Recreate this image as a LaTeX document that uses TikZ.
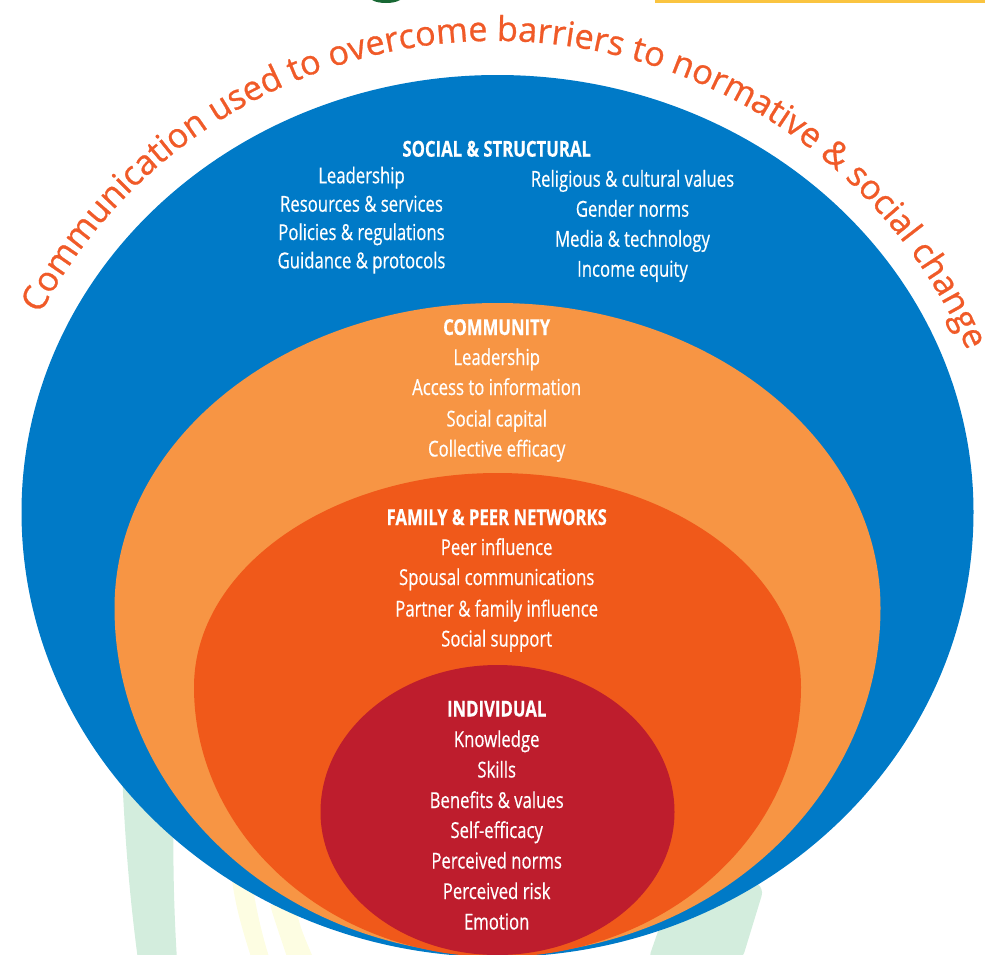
\documentclass[tikz,border=0pt]{standalone}
\usepackage{fontspec}
\usetikzlibrary{decorations.text}
\newfontfamily\arcfont{Open Sans}[FakeBold=0.8]
\newfontfamily\condfont{Open Sans}[FakeStretch=0.76, FakeBold=0.4]

\definecolor{ringblue}{RGB}{0,122,199}
\definecolor{ringlight}{RGB}{247,149,68}
\definecolor{ringdark}{RGB}{240,89,26}
\definecolor{ringred}{RGB}{190,29,45}
\definecolor{arcorange}{RGB}{240,90,40}
\definecolor{wgreen}{RGB}{211,237,221}
\definecolor{wyellow}{RGB}{253,253,226}
\definecolor{logogreen}{RGB}{24,104,52}
\definecolor{baryellow}{RGB}{250,196,64}

\tikzset{
  item/.style={anchor=base, text=white, inner sep=0pt,
    font=\condfont\fontsize{22}{22}\selectfont},
  head/.style={item, font=\condfont\bfseries\fontsize{22}{22}\selectfont},
}

% egg-shaped ring: #1 cx, #2 cy, #3 rx, #4 upper radius, #5 lower radius
\newcommand{\ringshape}[5]{%
  (#1-#3,#2) arc[start angle=180, end angle=360, x radius=#3, y radius=#4]
             arc[start angle=0, end angle=180, x radius=#3, y radius=#5] -- cycle}

\begin{document}
\begin{tikzpicture}[x=1pt,y=-1pt]
\useasboundingbox (0,0) rectangle (985,954);
\begin{scope}
  \clip (0,0) rectangle (985,954);
  % header fragments
  \fill[logogreen] (372,0) .. controls (378,4) and (394,4) .. (400,0) -- cycle;
  \fill[baryellow] (655,0) rectangle (985,3);
  % faint background bands
  \fill[wgreen] (120,700) .. controls (122,820) and (130,900) .. (138,960)
     -- (177,960) .. controls (172,880) and (172,800) .. (178,700) -- cycle;
  \fill[wgreen, rounded corners=8] (690,840) -- (764,888) -- (742,960) -- (648,960) -- cycle;
  \fill[wyellow] (232,880) .. controls (236,910) and (244,935) .. (252,960)
     -- (270,960) .. controls (262,935) and (255,905) .. (252,880) -- cycle;
  \fill[wyellow] (270,905) .. controls (276,925) and (282,942) .. (288,960)
     -- (314,960) .. controls (306,940) and (298,925) .. (296,905) -- cycle;
  % nested levels
  \fill[ringblue]  \ringshape{497.5}{512}{476}{437}{445};
  \fill[ringlight] \ringshape{497.5}{608}{383}{305}{347};
  \fill[ringdark]  \ringshape{497.5}{687}{303.5}{214}{270};
  \fill[ringred]   \ringshape{497.5}{812}{177}{147}{143};
\end{scope}

% curved title
\path[decorate, decoration={text along path, text color=arcorange,
  text={|\arcfont\fontsize{34.2}{34.2}\selectfont|Communication used to overcome barriers to normative {\&} social change},
  text align={left indent=0pt}}]
  (495,556) ++(208:515) arc[start angle=208, end angle=345, radius=515];

% social & structural
\node[head] (ss) at (496.7,156.7) {SOCIAL \& STRUCTURAL};
\node[item] (ssa) at (361.5,183.3) {Leadership};
\node[item] (ssb) at (361.5,211.7) {Resources \& services};
\node[item] (ssc) at (361.5,240) {Policies \& regulations};
\node[item] (ssd) at (361.5,268.3) {Guidance \& protocols};
\node[item] (sse) at (632.5,186.7) {Religious \& cultural values};
\node[item] (ssf) at (632.5,216.7) {Gender norms};
\node[item] (ssg) at (632.5,246.7) {Media \& technology};
\node[item] (ssh) at (632.5,276.7) {Income equity};

% community
\node[head] (cm) at (496.7,335) {COMMUNITY};
\node[item] (cma) at (496.7,365) {Leadership};
\node[item] (cmb) at (496.7,395) {Access to information};
\node[item] (cmc) at (496.7,426.5) {Social capital};
\node[item] (cmd) at (496.7,456.5) {Collective efficacy};

% family & peer networks
\node[head] (fp) at (496.7,525) {FAMILY \& PEER NETWORKS};
\node[item] (fpa) at (496.7,555) {Peer influence};
\node[item] (fpb) at (496.7,585) {Spousal communications};
\node[item] (fpc) at (496.7,616.5) {Partner \& family influence};
\node[item] (fpd) at (496.7,646.5) {Social support};

% individual
\node[head] (iv) at (496.7,716.5) {INDIVIDUAL};
\node[item] (iva) at (496.7,747) {Knowledge};
\node[item] (ivb) at (496.7,777.5) {Skills};
\node[item] (ivc) at (496.7,808) {Benefits \& values};
\node[item] (ivd) at (496.7,838) {Self-efficacy};
\node[item] (ive) at (496.7,868.5) {Perceived norms};
\node[item] (ivf) at (496.7,899) {Perceived risk};
\node[item] (ivg) at (496.7,929.5) {Emotion};
\end{tikzpicture}
\end{document}
